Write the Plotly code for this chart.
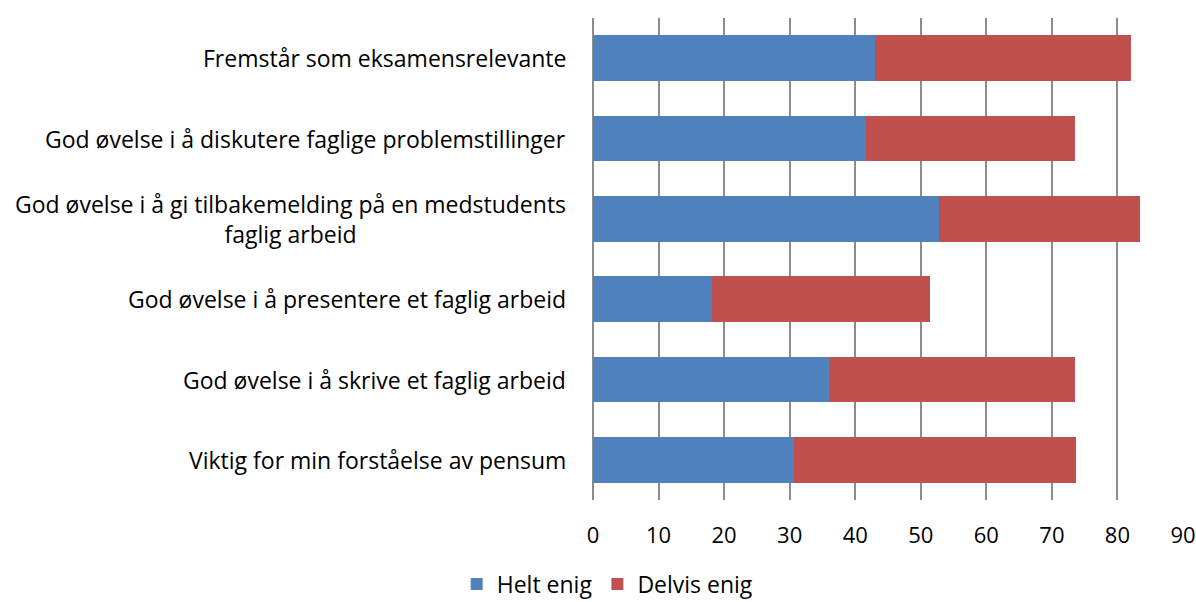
import plotly.graph_objects as go

categories = [
    "Fremstår som eksamensrelevante",
    "God øvelse i å diskutere faglige problemstillinger",
    "God øvelse i å gi tilbakemelding på en medstudents<br>faglig arbeid",
    "God øvelse i å presentere et faglig arbeid",
    "God øvelse i å skrive et faglig arbeid",
    "Viktig for min forståelse av pensum",
]
helt_enig = [43.0, 41.6, 52.8, 18.1, 36.0, 30.6]
delvis_enig = [39.0, 32.0, 30.6, 33.3, 37.6, 43.1]
series_names = ["Helt enig", "Delvis enig"]
tick_vals = [0, 10, 20, 30, 40, 50, 60, 70, 80, 90]

FONT = "Open Sans"
fig = go.Figure()
fig.add_trace(go.Bar(y=categories, x=helt_enig, orientation="h", name=series_names[0],
                     marker=dict(color="#4F81BD", line=dict(width=0))))
fig.add_trace(go.Bar(y=categories, x=delvis_enig, orientation="h", name=series_names[1],
                     marker=dict(color="#C0504D", line=dict(width=0))))

for c in categories:
    fig.add_annotation(x=0, y=c, xref="x", yref="y", text=c, showarrow=False,
                       xanchor="right", xshift=-25, align="center",
                       font=dict(family=FONT, size=23, color="#000000"))

fig.update_layout(
    barmode="stack",
    width=1196, height=602,
    margin=dict(l=593, r=13, t=18, b=102, autoexpand=False),
    paper_bgcolor="white", plot_bgcolor="white",
    bargap=0.43,
    font=dict(family=FONT, size=23, color="#000000"),
    legend=dict(orientation="h", x=-0.231, xanchor="left", y=-0.13, yanchor="top",
                font=dict(family=FONT, size=23), traceorder="normal",
                itemwidth=30),
    showlegend=True,
)
fig.update_xaxes(range=[0, 90], tickvals=tick_vals, showgrid=True, gridcolor="#8C8C8C",
                 gridwidth=1.5, zeroline=True, zerolinecolor="#8C8C8C", zerolinewidth=1.5,
                 ticks="", ticklabelstandoff=20, ticklabeloverflow="allow",
                 tickfont=dict(family=FONT, size=22))
fig.update_yaxes(autorange="reversed", showticklabels=False, showgrid=False, zeroline=False)

fig.write_html("out.html", config={"displayModeBar": False},
               post_script="document.body.style.margin='0px';document.body.style.overflow='hidden';")
